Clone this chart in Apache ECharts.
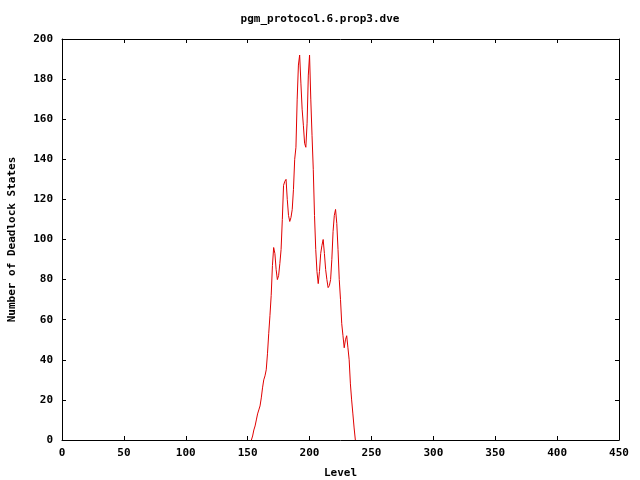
<!DOCTYPE html>
<html><head><meta charset="utf-8">
<script src="https://cdn.jsdelivr.net/npm/echarts@6/dist/echarts.min.js"></script>
<style>html,body{margin:0;padding:0;background:#fff}#c{width:640px;height:480px}</style>
</head><body><div id="c"></div>
<script>
const titleText = "pgm_protocol.6.prop3.dve";
const xName = "Level";
const yName = "Number of Deadlock States";
const levels = [];
for (let l = 153; l <= 237; l++) levels.push(l);
const deadlocks = [0,2,5,7,10,13,15,17,21,26,30,32,35,43,53,62,72,87,96,93,85,80,82,88,95,110,127,129,130,120,112,109,111,115,125,140,146,170,187,192,178,165,157,148,146,158,182,192,170,152,135,112,95,84,78,84,93,97,100,93,85,80,76,77,80,90,104,112,115,108,95,80,70,58,52,46,50,52,46,40,28,20,13,6,0];
const xTicks = [0,50,100,150,200,250,300,350,400,450];
const yTicks = [0,20,40,60,80,100,120,140,160,180,200];

const font = "'DejaVu Sans Mono', monospace";
const txt = {fontFamily: font, fontWeight: 'bold', fontSize: 11, color: '#000'};
const chart = echarts.init(document.getElementById('c'), null, {renderer: 'canvas'});
const pts = levels.map((l, i) => [l, deadlocks[i]]);
chart.setOption({
  animation: false,
  backgroundColor: '#fff',
  title: {text: titleText, left: 'center', top: 9, textStyle: Object.assign({}, txt)},
  grid: {left: 62, right: 21, top: 39, bottom: 40, containLabel: false, outerBoundsMode: 'none'},
  xAxis: [{
    type: 'value', min: xTicks[0], max: xTicks[xTicks.length-1], interval: 50,
    name: xName, nameLocation: 'middle', nameGap: 28, nameTextStyle: Object.assign({}, txt),
    axisLine: {show: true, lineStyle: {color: '#000', width: 1}},
    axisTick: {show: true, inside: true, length: 4, lineStyle: {color: '#000'}},
    axisLabel: Object.assign({margin: 8}, txt),
    splitLine: {show: false}
  }, {
    type: 'value', position: 'top', min: 0, max: 450, interval: 50,
    axisLine: {show: true, onZero: false, lineStyle: {color: '#000', width: 1}},
    axisTick: {show: true, inside: true, length: 4, lineStyle: {color: '#000'}},
    axisLabel: {show: false}, splitLine: {show: false}
  }],
  yAxis: [{
    type: 'value', min: yTicks[0], max: yTicks[yTicks.length-1], interval: 20,
    name: yName, nameLocation: 'middle', nameGap: 44, nameRotate: 90, nameTextStyle: Object.assign({}, txt),
    axisLine: {show: true, lineStyle: {color: '#000', width: 1}},
    axisTick: {show: true, inside: true, length: 4, lineStyle: {color: '#000'}},
    axisLabel: Object.assign({margin: 9}, txt),
    splitLine: {show: false}
  }, {
    type: 'value', position: 'right', min: 0, max: 200, interval: 20,
    axisLine: {show: true, onZero: false, lineStyle: {color: '#000', width: 1}},
    axisTick: {show: true, inside: true, length: 4, lineStyle: {color: '#000'}},
    axisLabel: {show: false}, splitLine: {show: false}
  }],
  series: [{
    type: 'line', data: pts, xAxisIndex: 0, yAxisIndex: 0,
    showSymbol: false, smooth: false,
    lineStyle: {color: '#e00000', width: 1}, itemStyle: {color: '#e00000'}
  }]
});
</script></body></html>
